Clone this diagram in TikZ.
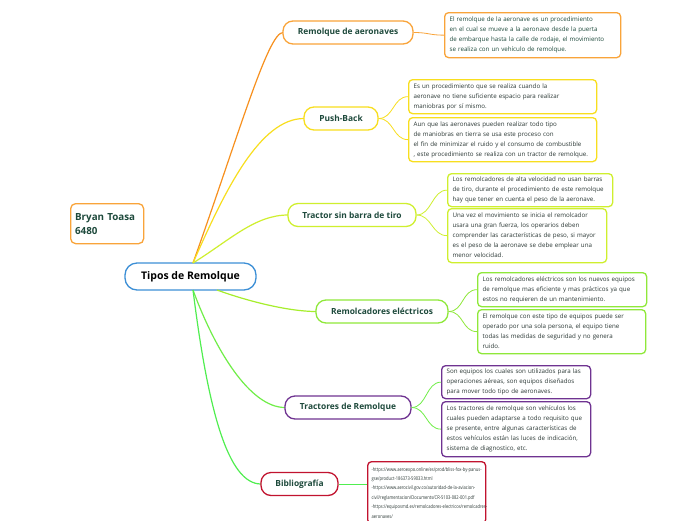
\documentclass[tikz,border=0pt]{standalone}
\usepackage{fontspec}
\setmainfont{Open Sans}
\newfontfamily\bibfont[FakeStretch=0.8]{Open Sans}
\newcommand\bibsetup{\bibfont\fontsize{5.1}{9.4}\selectfont\hyphenpenalty=10000 \exhyphenpenalty=10000 \relax}
\definecolor{orangeC}{HTML}{F9A43A}
\definecolor{orangeL}{HTML}{F7901E}
\definecolor{yellowC}{HTML}{F8DE1E}
\definecolor{ygreenC}{HTML}{CFEF2E}
\definecolor{greenC}{HTML}{8FE83A}
\definecolor{purpleC}{HTML}{6F3391}
\definecolor{redC}{HTML}{C1132F}
\definecolor{blueC}{HTML}{3C8FD6}
\definecolor{dgreen}{HTML}{1E4A3C}
\definecolor{leaftxt}{HTML}{2B3835}
\definecolor{c5}{HTML}{A6EE2C}
\definecolor{c6}{HTML}{70EE48}
\definecolor{c7}{HTML}{50EE50}
\tikzset{
  branch/.style={draw, rounded corners=10pt, line width=1.3pt, fill=white, minimum height=23pt,
    font=\fontsize{8.4}{9}\selectfont\bfseries, text=dgreen, inner sep=0pt},
  leaf/.style={draw, rounded corners=4pt, line width=1.3pt, fill=white, anchor=north west,
    inner xsep=5pt, inner ysep=3pt, align=left, font=\fontsize{6.2}{10}\selectfont, text=leaftxt},
  conn/.style={line width=1.2pt},
  lconn/.style={line width=0.8pt}
}
\begin{document}
\begin{tikzpicture}[x=1pt,y=-1pt]
\useasboundingbox[fill=white] (0,0) rectangle (696,520);
\clip (0,0) rectangle (696,520);

% root
\node[draw=blueC, rounded corners=12pt, line width=1.3pt, fill=white, minimum width=131pt, minimum height=27pt,
  font=\fontsize{10.5}{12}\selectfont\bfseries, inner sep=0pt] (root) at (190.5,276.5) {Tipos de Remolque};
\coordinate (rt) at (193,263);
\coordinate (rb) at (193,290);

% author
\node[draw=orangeC, rounded corners=5pt, line width=1.3pt, fill=white, minimum width=72pt, minimum height=40pt,
  anchor=north west, align=left, text width=64pt, inner xsep=4.5pt, font=\fontsize{9.8}{14}\selectfont\bfseries, text=dgreen] (author) at (70,203) {Bryan Toasa\\6480};

% connectors root->branches
\coordinate (a1) at (283,32.5);
\coordinate (a2) at (304,118.5);
\coordinate (a3) at (288,215);
\coordinate (a4) at (316,311.5);
\coordinate (a5) at (285,407.5);
\coordinate (a6) at (261,484);
\draw[conn, orangeL] (rt) .. controls (239,134) and (268,32.5) .. (a1);
\draw[conn, yellowC] (rt) .. controls (225,190) and (260,118.5) .. (a2);
\draw[conn, ygreenC] (rt) .. controls (230,240) and (255,215) .. (a3);
\draw[conn, c5] (217,290) .. controls (250,302) and (290,311.5) .. (a4);
\draw[conn, c6] (rb) .. controls (215,350) and (250,407.5) .. (a5);
\draw[conn, c7] (rb) .. controls (208,410) and (228,484) .. (a6);

% branches
\node[branch, draw=orangeC, minimum width=130pt] (b1) at (348,32.5) {Remolque de aeronaves};
\node[branch, draw=yellowC, minimum width=74pt] (b2) at (341,118.5) {Push-Back};
\node[branch, draw=ygreenC, minimum width=128pt] (b3) at (352,215) {Tractor sin barra de tiro};
\node[branch, draw=greenC, minimum width=132pt] (b4) at (382,311.5) {Remolcadores eléctricos};
\node[branch, draw=purpleC, minimum width=126pt] (b5) at (348,407.5) {Tractores de Remolque};
\node[branch, draw=redC, minimum width=77pt] (b6) at (299.5,484) {Bibliografía};

% leaves
\node[leaf, draw=orangeC, text=dgreen, text width=166pt, minimum height=45pt] (l1) at (444,12)
 {El remolque de la aeronave es un procedimiento\\en el cual se mueve a la aeronave desde la puerta\\de embarque hasta la calle de rodaje, el movimiento\\se realiza con un vehículo de remolque.};
\node[leaf, draw=yellowC, text width=178pt, minimum height=34pt] (l2a) at (408,79)
 {Es un procedimiento que se realiza cuando la\\aeronave no tiene suficiente espacio para realizar\\maniobras por sí mismo.};
\node[leaf, draw=yellowC, text width=178pt, minimum height=44pt] (l2b) at (408,117)
 {Aun que las aeronaves pueden realizar todo tipo\\de maniobras en tierra se usa este proceso con\\el fin de minimizar el ruido y el consumo de combustible\\, este procedimiento se realiza con un tractor de remolque.};
\node[leaf, draw=ygreenC, text width=155pt, minimum height=33pt] (l3a) at (447,173)
 {Los remolcadores de alta velocidad no usan barras\\de tiro, durante el procedimiento de este remolque\\hay que tener en cuenta el peso de la aeronave.};
\node[leaf, draw=ygreenC, text width=149pt, minimum height=54pt] (l3b) at (447,208)
 {Una vez el movimiento se inicia el remolcador\\usara una gran fuerza, los operarios deben\\comprender las características de peso, si mayor\\es el peso de la aeronave se debe emplear una\\menor velocidad.};
\node[leaf, draw=greenC, text width=159pt, minimum height=34pt] (l4a) at (477,272)
 {Los remolcadores eléctricos son los nuevos equipos\\de remolque mas eficiente y mas prácticos ya que\\estos no requieren de un mantenimiento.};
\node[leaf, draw=greenC, text width=158pt, minimum height=44pt] (l4b) at (477,309)
 {El remolque con este tipo de equipos puede ser\\operado por una sola persona, el equipo tiene\\todas las medidas de seguridad y no genera\\ruido.};
\node[leaf, draw=purpleC, text width=139pt, minimum height=33pt] (l5a) at (441,365)
 {Son equipos los cuales son utilizados para las\\operaciones aéreas, son equipos diseñados\\para mover todo tipo de aeronaves.};
\node[leaf, draw=purpleC, text width=139pt, minimum height=55pt] (l5b) at (441,401)
 {Los tractores de remolque son vehículos los\\cuales pueden adaptarse a todo requisito que\\se presente, entre algunas características de\\estos vehículos están las luces de indicación,\\sistema de diagnostico, etc.};
\node[leaf, draw=redC, text width=110pt, minimum height=62pt, inner xsep=4pt, inner ysep=3pt,
  font=\bibsetup] (l6) at (367,461)
 {-https://www.aeroexpo.online/es/prod/bliss-fox-by-panus-\\gse/product-186373-59033.html\\-https://www.aerocivil.gov.co/autoridad-de-la-aviacion-\\civil/reglamentacion/Documents/CR-5103-082-001.pdf\\-https://equiposmd.es/remolcadores-electricos/remolcadres-\\aeronaves/};

% leaf connectors
\draw[lconn, orangeC] (b1.east) .. controls +(15,0) and +(-15,0) .. (l1.west);
\draw[lconn, yellowC] (b2.east) .. controls +(15,0) and +(-15,0) .. (l2a.west);
\draw[lconn, yellowC] (b2.east) .. controls +(15,0) and +(-15,0) .. (l2b.west);
\draw[lconn, ygreenC] (b3.east) .. controls +(15,0) and +(-15,0) .. (l3a.west);
\draw[lconn, ygreenC] (b3.east) .. controls +(15,0) and +(-15,0) .. (l3b.west);
\draw[lconn, greenC] (b4.east) .. controls +(15,0) and +(-15,0) .. (l4a.west);
\draw[lconn, greenC] (b4.east) .. controls +(15,0) and +(-15,0) .. (l4b.west);
\draw[lconn, c6] (b5.east) .. controls +(15,0) and +(-15,0) .. (l5a.west);
\draw[lconn, c6] (b5.east) .. controls +(15,0) and +(-15,0) .. (l5b.west);
\draw[lconn, c7] (b6.east) -- (b6.east -| l6.west);
\end{tikzpicture}
\end{document}
